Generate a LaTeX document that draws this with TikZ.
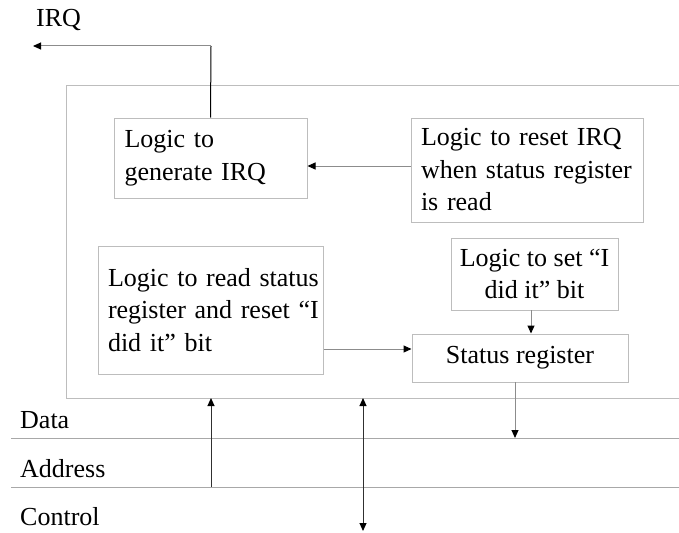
\documentclass[tikz,border=0pt]{standalone}
\usepackage{fontspec}
\setmainfont{Liberation Serif}
\usetikzlibrary{arrows.meta,calc}
\definecolor{boxgray}{HTML}{BDBDBD}
\definecolor{busgray}{HTML}{A8A8A8}
\definecolor{wiregray}{HTML}{8C8C8C}
\definecolor{darkwire}{HTML}{303030}
\hfuzz=20pt

\begin{document}
\begin{tikzpicture}[x=1pt,y=-1pt,
  txt/.style={font=\fontsize{26pt}{32.5pt}\selectfont},
  blockbox/.style={txt, draw=boxgray, line width=1pt, inner ysep=0pt},
  lbl/.style={txt, inner sep=0pt, anchor=base west},
  tip/.style={-{Triangle[length=8pt,width=7pt,color=black,fill=black]}},
  wire/.style={draw=wiregray, line width=1pt},
  bus/.style={draw=busgray, line width=1pt}]

\useasboundingbox (0,0) rectangle (679,532);

% chip outline, open towards the right
\coordinate (ctr) at (690,86);
\coordinate (ctl) at (66,86);
\coordinate (cbl) at (66,398);
\coordinate (cbr) at (690,398);
\draw[draw=boxgray, line width=1pt] (ctr) -- (ctl) -- (cbl) -- (cbr);

% bus lines
\coordinate (dataL) at (11,438);
\coordinate (dataR) at (690,438);
\coordinate (addrL) at (11,487);
\coordinate (addrR) at (690,487);
\draw[bus] (dataL) -- (dataR);
\draw[bus] (addrL) -- (addrR);

% bus labels
\node[lbl] (data) at (20,428) {Data};
\node[lbl] (addr) at (20,477) {Address};
\node[lbl] (ctrl) at (20,525) {Control};
\node[lbl] (irq) at (36,27) {IRQ};

% logic blocks (each line kept whole)
\node[blockbox, text width=172pt, inner xsep=10.5pt, align=left, minimum height=80pt]
  (gen) at (210.5,158) {\mbox{Logic to}\\\mbox{generate IRQ}};
\node[blockbox, text width=212pt, inner xsep=10pt, align=left, minimum height=104pt]
  (rst) at (527,170) {\mbox{Logic to reset IRQ}\\\mbox{when status register}\\\mbox{is read}};
\node[blockbox, text width=205pt, inner xsep=10pt, align=left, minimum height=128pt]
  (rd) at (210.5,310) {\mbox{Logic to read status}\\\mbox{register and reset “I}\\\mbox{did it” bit}};
\node[blockbox, align=center, minimum width=167pt, minimum height=72pt]
  (set) at (534.5,274) {Logic to set “I\\did it” bit};
\node[blockbox, align=center, minimum width=216pt, minimum height=48pt]
  (sr) at (520,358) {Status register};

% IRQ output
\coordinate (irqC) at (211,46);
\coordinate (irqE) at (33,46);
\draw[draw=black, line width=1pt] (gen.north) -- (irqC);
\draw[wire, tip] (irqC) -- (irqE);

% reset logic to IRQ generator
\draw[wire, tip] ($(rst.west)+(0,-4)$) -- ($(gen.east)+(0,8)$);

% read logic to status register
\coordinate (rdOut) at ($(rd.east)+(0,39)$);
\draw[wire, tip] (rdOut) -- (sr.west |- rdOut);

% set logic to status register
\coordinate (setOut) at (531,310);
\draw[wire, tip] (setOut) -- (setOut |- sr.north);

% status register onto the data bus
\coordinate (srOut) at (515,382);
\draw[wire, tip] (srOut) -- (srOut |- dataL);

% address into the chip
\coordinate (addrTap) at (211,487);
\draw[draw=darkwire, line width=1pt, tip] (addrTap) -- (addrTap |- cbl);

% control lines, both directions
\coordinate (ctlTop) at (363,398);
\coordinate (ctlBot) at (363,531);
\draw[draw=darkwire, line width=1pt,
  {Triangle[length=8pt,width=7pt,color=black,fill=black]}-{Triangle[length=8pt,width=7pt,color=black,fill=black]}]
  (ctlTop) -- (ctlBot);
\end{tikzpicture}
\end{document}
